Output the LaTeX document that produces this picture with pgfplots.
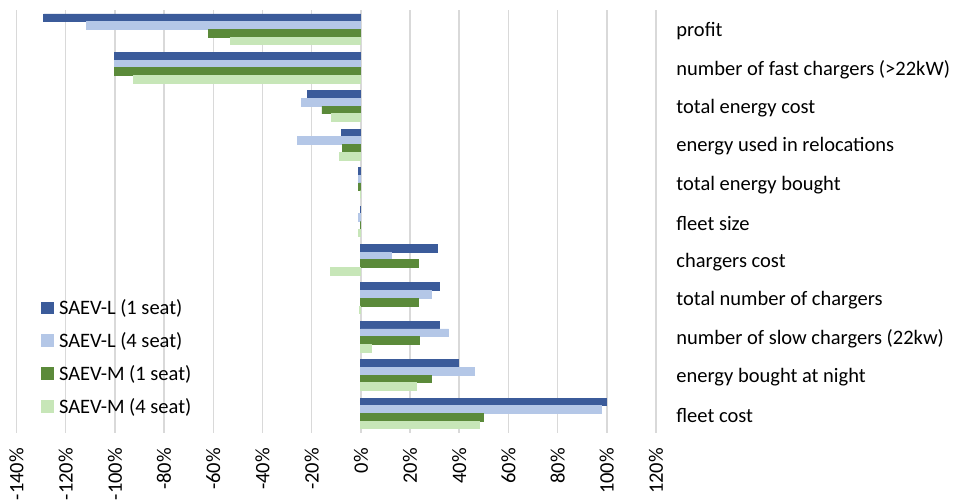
\documentclass[border=0pt]{standalone}
\usepackage{pgfplots}
\pgfplotsset{compat=1.18}
\usepackage{fontspec}
\setmainfont{Carlito}
\definecolor{cLone}{HTML}{3B5B9A}
\definecolor{cLfour}{HTML}{B4C7E7}
\definecolor{cMone}{HTML}{5B8A3A}
\definecolor{cMfour}{HTML}{C7E6B8}
\definecolor{gridc}{HTML}{D9D9D9}
\begin{document}
\fontsize{10.25}{12.3}\selectfont
\begin{tikzpicture}
\begin{axis}[
  at={(0,0)}, anchor=south west,
  scale only axis,
  width=319.75pt, height=211.3pt,
  xbar=0pt, bar width=0.2,
  xmin=-140, xmax=120,
  ymin=-0.5, ymax=10.5,
  y dir=reverse,
  xtick={-140,-120,-100,-80,-60,-40,-20,0,20,40,60,80,100,120},
  xticklabels={-140\%,-120\%,-100\%,-80\%,-60\%,-40\%,-20\%,0\%,20\%,40\%,60\%,80\%,100\%,120\%},
  xticklabel style={rotate=90, anchor=east, inner sep=0pt, font=\fontsize{10.25}{12.3}\selectfont},
  xticklabel shift=7.5pt,
  ytick={0,1,2,3,4,5,6,7,8,9,10},
  yticklabels={profit,number of fast chargers (>22kW),total energy cost,energy used in relocations,total energy bought,fleet size,chargers cost,total number of chargers,number of slow chargers (22kw),energy bought at night,fleet cost},
  yticklabel pos=right,
  yticklabel style={anchor=west, inner sep=0pt, xshift=10pt, yshift=-1pt, font=\fontsize{10.25}{12.3}\selectfont},
  axis line style={draw=none},
  major tick length=0pt,
  xmajorgrids,
  grid style={color=gridc, line width=0.75pt},
  legend cell align=left,
  legend style={draw=none, fill=none, inner sep=0pt, row sep=0pt,
    at={(axis description cs:0,0)}, anchor=south west, xshift=12.25pt, yshift=1.65pt,
    font=\fontsize{10.25}{12.3}\selectfont,
    nodes={inner sep=0pt, text height=8.4pt, text depth=8pt}},
  legend image code/.code={\fill[#1] (0pt,0.3pt) rectangle (5.8pt,6.1pt); \path[draw=none,fill=none] (0pt,0pt) -- (8.6pt,0pt);},
]
\addplot[fill=cLone, draw=cLone] coordinates {(-129,0) (-100,1) (-21.6,2) (-7.8,3) (-0.8,4) (0,5) (31.1,6) (31.9,7) (32.0,8) (39.6,9) (100,10)};
\addplot[fill=cLfour, draw=cLfour] coordinates {(-111.5,0) (-100,1) (-24.2,2) (-25.8,3) (-0.8,4) (-0.8,5) (12.4,6) (28.5,7) (35.7,8) (46,9) (97.6,10)};
\addplot[fill=cMone, draw=cMone] coordinates {(-62,0) (-100,1) (-15.8,2) (-7.4,3) (-0.8,4) (0,5) (23.2,6) (23.6,7) (23.8,8) (28.7,9) (50,10)};
\addplot[fill=cMfour, draw=cMfour] coordinates {(-53,0) (-92.6,1) (-12,2) (-8.7,3) (0,4) (-0.8,5) (-12.2,6) (-0.4,7) (4.2,8) (22.5,9) (48.3,10)};
\legend{SAEV-L (1 seat),SAEV-L (4 seat),SAEV-M (1 seat),SAEV-M (4 seat)}
\end{axis}
\pgfresetboundingbox
\path[use as bounding box] (-8.25pt,-33.65pt) rectangle (468.75pt,216.35pt);
\end{tikzpicture}
\end{document}
